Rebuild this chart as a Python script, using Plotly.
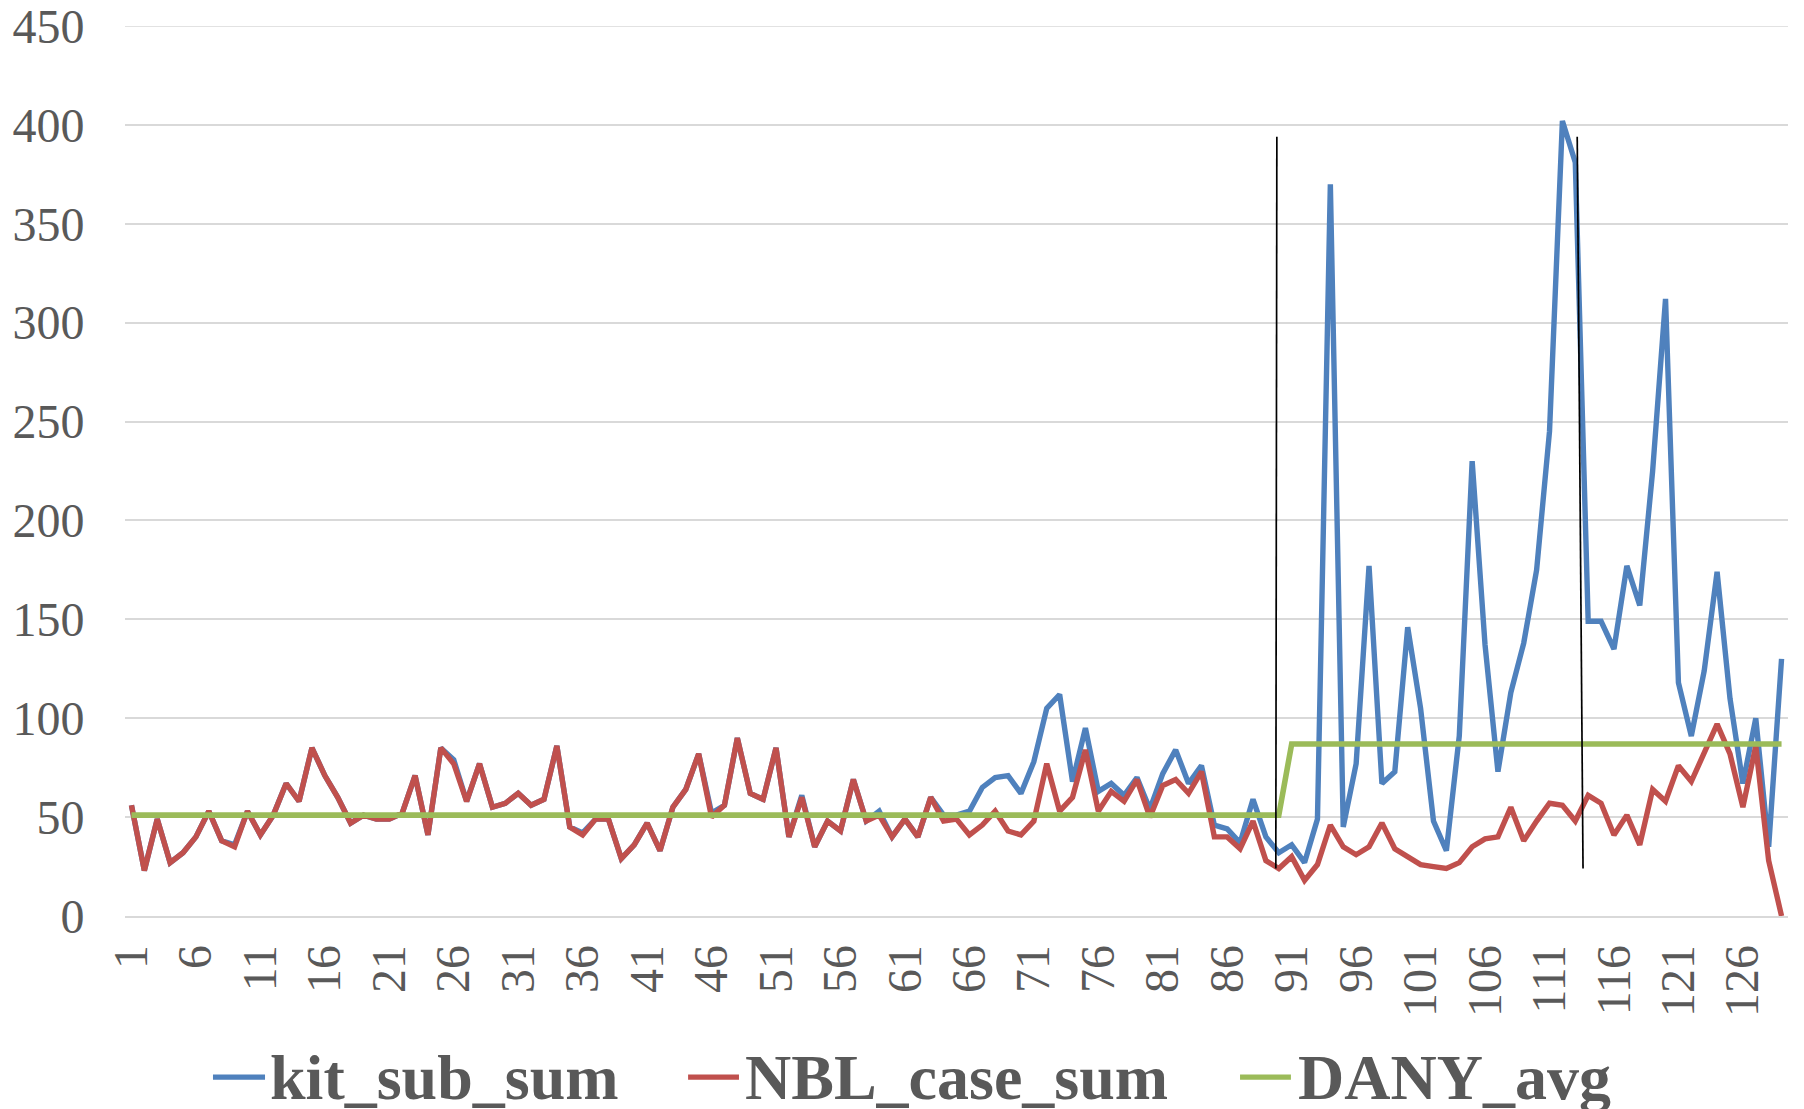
import plotly.graph_objects as go

categories = list(range(1, 130))

nbl_case_sum = [
    56, 23, 49, 27, 32, 40, 53, 38, 35, 53,
    41, 51, 67, 58, 85, 71, 60, 47, 51, 49,
    49, 52, 71, 41, 85, 77, 58, 77, 55, 57,
    62, 56, 59, 86, 45, 41, 49, 49, 29, 36,
    47, 33, 55, 64, 82, 50, 56, 90, 62, 59,
    85, 40, 60, 35, 48, 43, 69, 48, 51, 40,
    49, 40, 60, 48, 49, 41, 46, 53, 43, 41,
    48, 77, 53, 60, 84, 53, 63, 58, 69, 50,
    66, 69, 62, 73, 40, 40, 34, 48, 28, 24,
    30, 18, 26, 46, 35, 31, 35, 47, 34, 30,
    26, 25, 24, 27, 35, 39, 40, 55, 38, 48,
    57, 56, 48, 61, 57, 41, 51, 36, 64, 58,
    76, 68, 83, 97, 82, 55, 86, 28, 0,
]

kit_sub_sum = [
    56, 23, 49, 27, 32, 40, 53, 38, 36, 53,
    41, 51, 67, 58, 85, 71, 60, 47, 51, 49,
    49, 52, 71, 41, 85, 79, 58, 77, 55, 57,
    62, 56, 59, 86, 45, 42, 49, 49, 29, 36,
    47, 33, 55, 64, 82, 52, 56, 90, 62, 59,
    85, 40, 61, 35, 48, 43, 69, 48, 53, 40,
    49, 40, 60, 51, 51, 53, 65, 70, 71, 62,
    78, 105, 112, 68, 95, 63, 67, 61, 70, 54,
    72, 84, 67, 76, 46, 44, 37, 59, 40, 32,
    36, 27, 49, 370, 45, 77, 177, 67, 73, 146,
    105, 48, 33, 91, 230, 137, 73, 113, 138, 175,
    245, 402, 381, 149, 149, 135, 177, 157, 225, 312,
    118, 91, 124, 174, 110, 67, 100, 35, 130,
]

dany_avg = [51] * 90 + [87] * 39

series_names = ["kit_sub_sum", "NBL_case_sum", "DANY_avg"]
x_tick_labels = [str(v) for v in range(1, 130, 5)]
y_tick_values = list(range(0, 451, 50))
y_max = 450

# hand-drawn separators (category position at top / bottom, value at top / bottom)
divider_top_x = [89.85, 113.15]
divider_bottom_x = [89.77, 113.6]
divider_top_val = 394
divider_bottom_val = 24

BLUE = "#4F81BD"
RED = "#C0504D"
GREEN = "#9BBB59"
TXT = "#595959"
GRID = "#D9D9D9"
SERIF = "Liberation Serif, Times New Roman, serif"
colors = [BLUE, RED, GREEN]
widths = [5.4, 5.4, 5.6]

fig = go.Figure()
for name, vals, c, w in zip(series_names, [kit_sub_sum, nbl_case_sum, dany_avg], colors, widths):
    fig.add_trace(go.Scatter(x=categories, y=vals, mode="lines", name=name,
                             line=dict(color=c, width=w), showlegend=False))

# top gridline (plotly omits the one lying on the plot edge)
fig.add_shape(type="line", xref="paper", yref="y", x0=0, x1=1, y0=y_max, y1=y_max,
              layer="below", line=dict(color=GRID, width=1.5))

for xt, xb in zip(divider_top_x, divider_bottom_x):
    fig.add_shape(type="line", xref="x", yref="y", x0=xt, y0=divider_top_val,
                  x1=xb, y1=divider_bottom_val, line=dict(color="black", width=1.7))

# manual legend (longer line swatches like the original)
legend_sym_x = [(0.0529, 0.0842), (0.3386, 0.3692), (0.6705, 0.7011)]
legend_txt_x = [0.0862, 0.3718, 0.7043]
legend_y = -0.181
for name, c, (s0, s1), tx in zip(series_names, colors, legend_sym_x, legend_txt_x):
    fig.add_shape(type="line", xref="paper", yref="paper", x0=s0, x1=s1,
                  y0=legend_y, y1=legend_y, line=dict(color=c, width=5.2))
    fig.add_annotation(xref="paper", yref="paper", x=tx, y=legend_y, xanchor="left",
                       yanchor="middle", text=f"<b>{name}</b>", showarrow=False,
                       font=dict(family=SERIF, size=64, color=TXT))

# the page body adds an 8px offset, so the figure is 8px smaller and margins compensate
fig.update_layout(
    width=1796, height=1101,
    margin=dict(l=117, r=16, t=18, b=193),
    paper_bgcolor="white", plot_bgcolor="white",
    font=dict(family=SERIF, color=TXT),
    showlegend=False,
    xaxis=dict(range=[0.5, 129.5], tickmode="array", automargin=False,
               tickvals=list(range(1, 130, 5)), ticktext=x_tick_labels,
               tickangle=-90, tickfont=dict(family=SERIF, size=48, color=TXT),
               ticklabeloverflow="allow",
               showgrid=False, zeroline=False, showline=True, linecolor=GRID, linewidth=1.5,
               ticks="outside", ticklen=8, tickcolor="rgba(0,0,0,0)"),
    yaxis=dict(range=[0, y_max], tickmode="array", tickvals=y_tick_values, automargin=False,
               tickfont=dict(family=SERIF, size=48, color=TXT),
               ticklabeloverflow="allow",
               showgrid=True, gridcolor=GRID, gridwidth=1.5, zeroline=False,
               ticks="outside", ticklen=30, tickcolor="rgba(0,0,0,0)"),
)

fig.write_html("out.html")
